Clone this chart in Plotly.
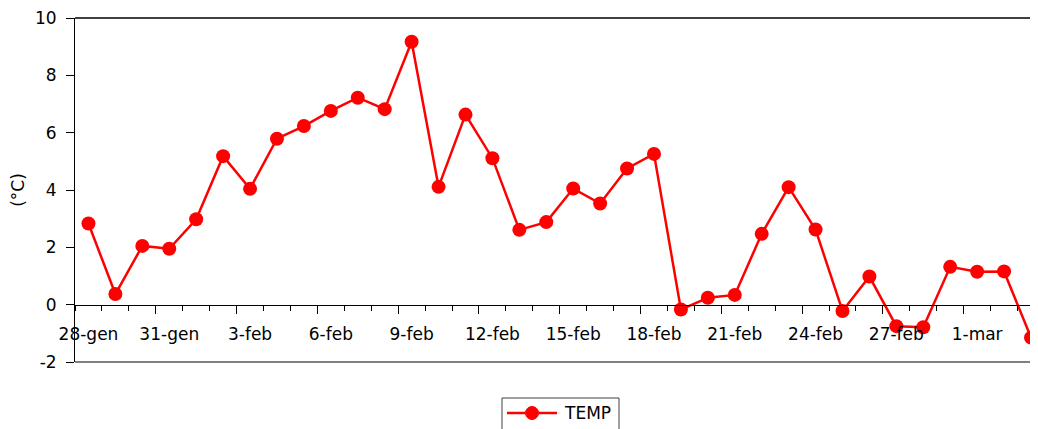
import plotly.graph_objects as go

# daily mean temperature, 28 Jan - 3 Mar (leap year)
dates = [
    "28-gen", "29-gen", "30-gen", "31-gen",
    "1-feb", "2-feb", "3-feb", "4-feb", "5-feb", "6-feb", "7-feb", "8-feb",
    "9-feb", "10-feb", "11-feb", "12-feb", "13-feb", "14-feb", "15-feb",
    "16-feb", "17-feb", "18-feb", "19-feb", "20-feb", "21-feb", "22-feb",
    "23-feb", "24-feb", "25-feb", "26-feb", "27-feb", "28-feb", "29-feb",
    "1-mar", "2-mar", "3-mar",
]
temp = [
    2.83, 0.37, 2.05, 1.95, 2.98, 5.18, 4.04, 5.79, 6.23, 6.76, 7.22, 6.82,
    9.17, 4.11, 6.63, 5.11, 2.61, 2.88, 4.05, 3.53, 4.75, 5.26, -0.17, 0.24,
    0.34, 2.47, 4.10, 2.62, -0.22, 0.98, -0.75, -0.79, 1.32, 1.15, 1.16, -1.15,
]
y_ticks = [-2, 0, 2, 4, 6, 8, 10]
label_step = 3
series_name = "TEMP"

FONT = "DejaVu Sans"
RED = "#ff0000"
x_pos = list(range(len(dates)))
x_range = [-0.5, len(dates) - 0.74]
zero_pos = (0 - y_ticks[0]) / (y_ticks[-1] - y_ticks[0])

# plot area in page pixels (page body has an 8px margin)
PLOT_L, PLOT_R, PLOT_T, PLOT_B = 75, 1038, 18, 362


def px(x, y):
    """page pixel -> paper coords"""
    return ((x - PLOT_L) / (PLOT_R - PLOT_L), (PLOT_B - y) / (PLOT_B - PLOT_T))


fig = go.Figure()
fig.add_trace(go.Scatter(
    x=x_pos,
    y=temp,
    name=series_name,
    mode="lines+markers",
    line=dict(color=RED, width=2.5),
    marker=dict(color=RED, size=14),
    cliponaxis=False,
    showlegend=False,
))

fig.update_layout(
    width=1030,
    height=421,
    margin=dict(l=67, r=0, t=10, b=67, autoexpand=False),
    paper_bgcolor="white",
    plot_bgcolor="white",
    font=dict(family=FONT, size=17, color="black"),
    showlegend=False,
    # axis line at y=0 with category tick marks (major every 3, minor every 1)
    xaxis=dict(
        range=x_range,
        anchor="free",
        position=zero_pos,
        automargin=False,
        showgrid=False,
        zeroline=False,
        showline=True, linecolor="black", linewidth=1,
        tickmode="array",
        tickvals=[i - 0.5 for i in x_pos[label_step::label_step]],
        ticks="outside", ticklen=8, tickcolor="black",
        showticklabels=False,
        minor=dict(tick0=-0.5, dtick=1, ticks="outside", ticklen=5,
                   tickcolor="black"),
    ),
    # date labels, centred on their categories
    xaxis2=dict(
        range=x_range,
        overlaying="x",
        anchor="free",
        position=zero_pos,
        automargin=False,
        showgrid=False,
        zeroline=False,
        showline=False,
        tickmode="array",
        tickvals=x_pos[::label_step],
        ticktext=dates[::label_step],
        ticks="outside", ticklen=14, tickcolor="rgba(0,0,0,0)",
        ticklabeloverflow="allow",
    ),
    yaxis=dict(
        range=[y_ticks[0], y_ticks[-1]],
        tickmode="array",
        tickvals=y_ticks,
        ticktext=[str(v) for v in y_ticks],
        automargin=False,
        showgrid=False,
        zeroline=False,
        showline=True, linecolor="black", linewidth=1,
        ticks="outside", ticklen=8, tickcolor="black",
        ticklabelstandoff=6,
        ticklabeloverflow="allow",
        title=dict(text="(°C)", standoff=8, font=dict(size=17)),
    ),
)

# dummy trace so the label axis is drawn
fig.add_trace(go.Scatter(x=[], y=[], xaxis="x2", showlegend=False))

# plot-area frame: black top edge, grey bottom edge
fig.add_shape(type="line", xref="paper", yref="paper", x0=0, x1=1, y0=1, y1=1,
              line=dict(color="black", width=1.5), layer="below")
fig.add_shape(type="line", xref="paper", yref="paper", x0=0, x1=1, y0=0, y1=0,
              line=dict(color="#808080", width=2), layer="below")

# Excel-style legend box below the chart (long line with a centred marker)
bx0, by0 = px(502, 398)
bx1, by1 = px(619, 445)
fig.add_shape(type="rect", xref="paper", yref="paper",
              x0=bx0, y0=by1, x1=bx1, y1=by0,
              line=dict(color="#404040", width=1), fillcolor="white")
lx0, ly = px(507, 413)
lx1, _ = px(557, 413)
fig.add_shape(type="line", xref="paper", yref="paper",
              x0=lx0, y0=ly, x1=lx1, y1=ly, line=dict(color=RED, width=2.5))
mx0, my0 = px(525.5, 419.5)
mx1, my1 = px(538.5, 406.5)
fig.add_shape(type="circle", xref="paper", yref="paper",
              x0=mx0, y0=my0, x1=mx1, y1=my1,
              line=dict(color=RED, width=1), fillcolor=RED)
tx, ty = px(562, 413)
fig.add_annotation(text=series_name, xref="paper", yref="paper",
                   x=tx, y=ty, xanchor="left", yanchor="middle",
                   showarrow=False, font=dict(size=17))

fig.write_html("out.html")
